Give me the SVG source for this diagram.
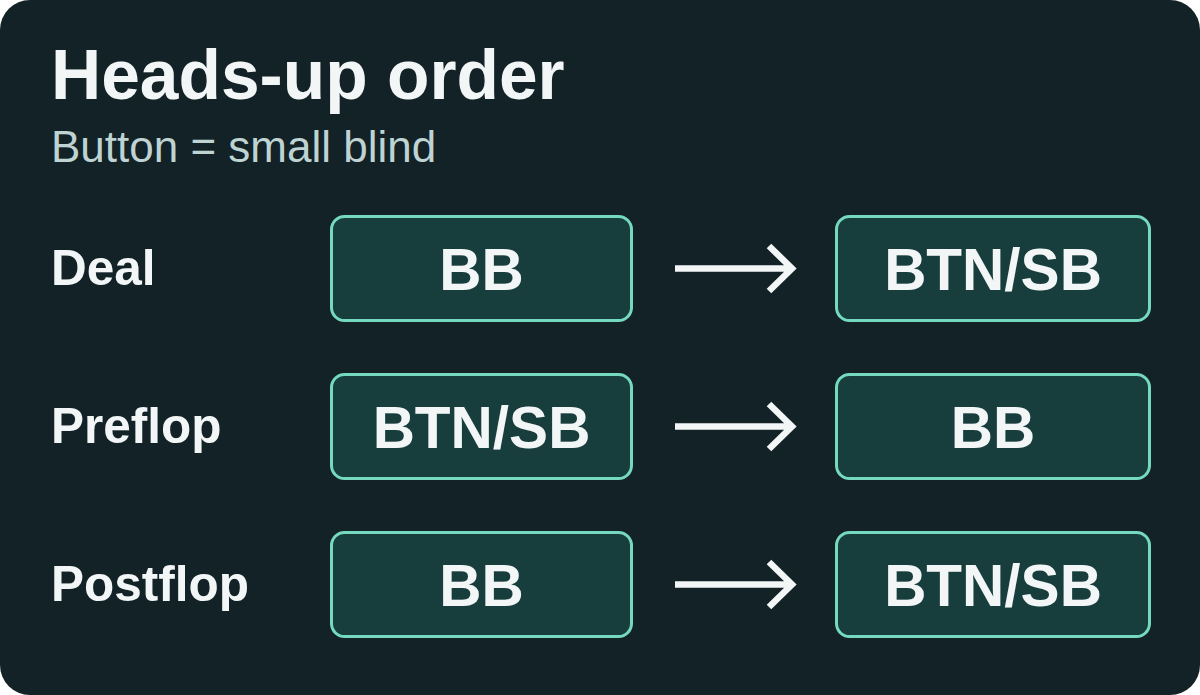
<svg xmlns="http://www.w3.org/2000/svg" width="1200" height="695" viewBox="0 0 1200 695">
  <defs>
    <style>
      .bg { fill: #122226; }
      .box { fill: #183d3d; stroke: #74d9bf; stroke-width: 3; }
      .title { font-family: "Liberation Sans", Arial, sans-serif; font-weight: bold; font-size: 69.5px; fill: #f3f6f6; }
      .sub { font-family: "Liberation Sans", Arial, sans-serif; font-size: 44px; fill: #bfd3d3; }
      .lbl { font-family: "Liberation Sans", Arial, sans-serif; font-weight: bold; font-size: 49.5px; fill: #f3f6f6; }
      .btxt { font-family: "Liberation Sans", Arial, sans-serif; font-weight: bold; font-size: 58.5px; fill: #f3f6f6; text-anchor: middle; }
      .arr { fill: none; stroke: #f3f6f6; stroke-width: 6.5; }
    </style>
  </defs>
  <rect x="0" y="0" width="1200" height="695" fill="#ffffff"/>
  <rect class="bg" x="0" y="0" width="1200" height="695" rx="30" ry="30"/>
  <g id="header">
    <text class="title" x="51" y="99">Heads-up order</text>
    <text class="sub" x="51" y="162">Button = small blind</text>
  </g>
  <g id="labels">
    <text class="lbl" x="51" y="285">Deal</text>
    <text class="lbl" x="51" y="443">Preflop</text>
    <text class="lbl" x="51" y="601">Postflop</text>
  </g>
  <g id="node-deal-bb">
    <rect class="box" x="331.5" y="216.5" width="300" height="104" rx="13"/>
    <text class="btxt" x="481.5" y="289.5">BB</text>
  </g>
  <g id="node-deal-btn">
    <rect class="box" x="836.5" y="216.5" width="313" height="104" rx="13"/>
    <text class="btxt" x="993" y="289.5">BTN/SB</text>
  </g>
  <g id="node-preflop-btn">
    <rect class="box" x="331.5" y="374.5" width="300" height="104" rx="13"/>
    <text class="btxt" x="481.5" y="447.5">BTN/SB</text>
  </g>
  <g id="node-preflop-bb">
    <rect class="box" x="836.5" y="374.5" width="313" height="104" rx="13"/>
    <text class="btxt" x="993" y="447.5">BB</text>
  </g>
  <g id="node-postflop-bb">
    <rect class="box" x="331.5" y="532.5" width="300" height="104" rx="13"/>
    <text class="btxt" x="481.5" y="605.5">BB</text>
  </g>
  <g id="node-postflop-btn">
    <rect class="box" x="836.5" y="532.5" width="313" height="104" rx="13"/>
    <text class="btxt" x="993" y="605.5">BTN/SB</text>
  </g>
  <g id="connectors">
    <path class="arr" d="M675 268.5 H792 M769 246 L792 268.5 L769 291"/>
    <path class="arr" d="M675 426.5 H792 M769 404 L792 426.5 L769 449"/>
    <path class="arr" d="M675 584.5 H792 M769 562 L792 584.5 L769 607"/>
  </g>
</svg>
